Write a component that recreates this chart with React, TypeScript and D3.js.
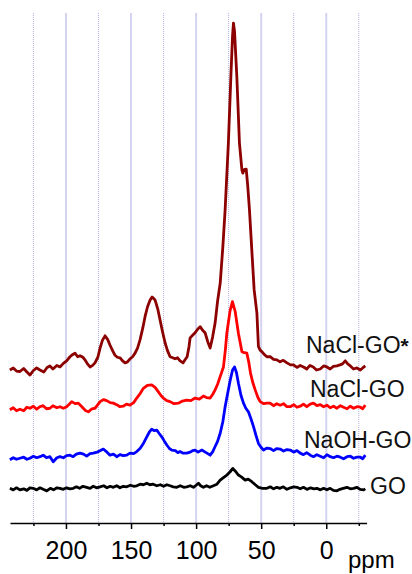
import React, { useEffect, useRef } from 'react';
import * as d3 from 'd3';

// chemical shift (ppm) vs intensity
const naclGoStar: [number, number][] = [
  [243.1,30.0],[240.5,30.4],[238,29.8],[235.4,29.7],[232.5,30.3],[230,29.6],[227.7,29.0],[225,29.9],[222.5,30.4],[220,30.0],
  [217,29.6],[214.5,30.5],[212.3,30.8],[210,30.2],[207,30.9],[204.6,30.6],[202,31.3],[199.5,31.8],[196.9,32.6],[195,33.0],
  [193.1,33.3],[191,32.6],[189.2,32.8],[187,32.5],[185.4,32.0],[183.5,31.2],[181.5,30.6],[179.5,30.9],[177.7,31.4],[175.5,32.5],
  [173.8,34.3],[172,35.8],[170,36.7],[168,36.0],[166.2,34.9],[164,33.7],[162.3,32.9],[160.5,32.5],[158.5,32.4],[156.5,31.8],
  [154.6,31.4],[152.7,31.6],[150.8,32.2],[148.8,32.6],[146.9,33.3],[145,34.3],[143.1,35.9],[141,38.2],[139.2,40.5],[137.2,42.5],
  [135.4,43.7],[133.8,44.3],[132.5,44.0],[131.5,43.7],[129.5,42.0],[127.7,39.8],[125.8,37.5],[123.8,35.3],[122,33.8],[120,32.6],
  [118,32.4],[116.2,32.2],[114.2,32.4],[112.3,31.8],[110,31.4],[108.5,32.0],[106.9,32.6],[105.5,34.5],[104.6,36.3],[102.7,36.8],
  [100.8,37.3],[98.8,38.0],[96.9,38.5],[95,37.8],[93.1,37.3],[91,35.5],[89.2,34.3],[87.3,36.5],[85.4,39.2],[83.5,43.5],
  [81.5,47.0],[79.5,54.0],[77.7,61.4],[75.2,74.5],[73.3,87.5],[72,95.5],[71.3,98.0],[70.5,96.5],[68.7,87.5],[66.7,74.5],
  [64.8,69.2],[64.1,68.6],[63,69.3],[61.5,69.4],[60.3,66.0],[59,61.4],[57.2,53.5],[55.4,45.7],[53.3,41.2],[52.1,34.6],
  [50.8,33.9],[49.5,33.6],[47.5,33.0],[45.6,32.6],[43.1,32.6],[40.5,32.1],[37.9,32.0],[35.5,31.6],[33,31.9],[30.2,31.4],
  [27.5,31.0],[25.2,31.0],[22.5,30.5],[20,30.9],[17.5,30.6],[15,30.2],[12.5,30.9],[10,30.6],[7.5,30.0],[4.6,30.2],
  [2,30.8],[-0.5,30.6],[-3,30.2],[-5.5,30.7],[-8.2,30.8],[-10.5,31.0],[-12.5,31.2],[-14.6,31.8],[-16.5,31.2],[-18.5,30.8],
  [-21,30.2],[-23.6,30.4],[-26.2,30.0],[-28,30.4],[-30,30.8],
];

const naclGo: [number, number][] = [
  [243.1,22.2],[240.5,22.6],[238,22.0],[235.4,22.3],[232.5,22.0],[230,22.7],[227.7,22.5],[225,22.9],[222.5,22.3],[220,22.8],
  [217.5,23.0],[215,22.4],[212.3,22.5],[210,23.0],[207,22.6],[204.6,22.8],[202,22.5],[199.5,22.8],[197.5,23.3],[195.6,23.8],
  [193,23.4],[190.5,23.5],[188.5,23.0],[186.7,22.5],[184.8,22.0],[182.8,21.8],[180,22.4],[177.7,22.5],[175.5,23.2],[173.8,23.8],
  [171,24.2],[168.7,24.0],[166,23.6],[163.6,23.5],[161,23.2],[158.5,22.8],[156,22.9],[153.5,23.3],[150.8,23.1],[148,23.6],
  [145.6,24.5],[143,25.4],[140.5,26.4],[137.5,27.0],[134.1,27.1],[131.5,26.6],[129,25.7],[127,25.0],[125.2,24.5],[122.5,24.0],
  [120,23.8],[117,23.4],[113.6,23.5],[110.5,23.9],[107.2,24.1],[104,24.0],[100.8,24.5],[97.5,24.3],[94.4,24.9],[92,24.6],
  [89.2,24.5],[87.3,25.2],[85.4,26.1],[83.5,27.2],[81.5,28.7],[79,30.6],[77.5,34.0],[76.4,37.2],[74,41.5],[72.1,43.4],
  [70,41.5],[67.5,37.2],[64.8,33.6],[63,33.4],[61,33.3],[59.5,31.5],[58.2,29.4],[56.5,27.6],[54.6,26.1],[52.5,24.6],
  [50.8,23.8],[48,23.4],[45.6,23.5],[43.1,23.5],[40.5,23.0],[38,23.4],[35.4,23.1],[32.8,23.4],[30.2,22.8],[27.7,22.8],
  [25,23.2],[22.5,22.7],[20,22.9],[17.5,23.3],[15,22.8],[12.3,23.3],[9.8,23.5],[7.2,23.0],[4.6,23.2],[2.1,22.8],
  [-0.5,23.1],[-3,22.6],[-5.6,22.9],[-8.2,22.5],[-10.8,23.0],[-13.3,22.7],[-16,22.4],[-18.5,22.9],[-21,22.5],[-23.6,22.8],
  [-26.2,22.7],[-28,22.4],[-30,23.1],
];

const naohGo: [number, number][] = [
  [243.1,12.4],[240.5,12.8],[238,12.5],[235.4,12.7],[232.5,12.9],[230,12.5],[227.7,12.7],[225,13.1],[222.5,12.8],[220,13.0],
  [217.5,13.3],[215,12.8],[212.3,13.0],[209.8,12.0],[207,12.8],[204.6,13.0],[202,12.8],[199.5,13.2],[196.9,13.3],[194.5,13.0],
  [192,13.5],[189.2,13.7],[186.5,13.5],[184.1,13.1],[181.5,13.6],[179,13.7],[176,13.9],[173.5,14.2],[171.3,14.5],[169,14.0],
  [166.2,13.3],[163.5,13.5],[161,13.0],[158.5,13.4],[156,13.2],[153.3,13.3],[150.8,13.7],[148,13.6],[145.6,14.0],[143.1,14.6],
  [140.5,15.6],[137.9,16.9],[136,17.8],[134.1,18.4],[132,18.1],[130.2,18.2],[128.5,17.6],[126.4,16.9],[124.5,16.1],[122.5,15.3],
  [120.5,14.6],[118.7,14.3],[116,14.2],[114,13.8],[112.3,14.0],[110,13.7],[107.2,13.7],[104.5,13.9],[102.5,14.2],[100.8,14.3],
  [98.5,13.9],[95.6,14.3],[93,13.9],[91,13.6],[89.2,13.3],[87.2,14.0],[85.4,15.0],[83.5,16.0],[81.5,17.6],[79.5,19.8],
  [77.7,22.8],[75.7,25.5],[73.8,28.0],[72,30.0],[70.5,30.6],[69,29.5],[67.5,27.4],[65.5,25.0],[63.6,23.5],[61.8,22.5],
  [59.8,21.8],[57.8,20.4],[55.9,18.9],[54,17.2],[52.1,15.6],[50,14.8],[48.2,14.3],[45.5,14.7],[43.1,14.6],[40.5,14.2],
  [38,14.6],[35.4,14.5],[32.8,14.1],[30.2,14.4],[27.7,14.3],[25,13.9],[22.5,14.2],[20,13.7],[17.5,13.4],[15,13.8],
  [12.3,13.3],[9.8,13.0],[7.2,13.4],[4.6,13.1],[2,12.8],[-0.5,13.4],[-3.1,13.0],[-5.6,12.8],[-8.2,13.1],[-10.8,12.9],
  [-13.3,12.6],[-16,13.0],[-18.5,13.1],[-21,12.7],[-23.6,12.9],[-26.2,12.9],[-28,12.6],[-30,13.3],
];

const go: [number, number][] = [
  [243.1,6.8],[240.5,6.5],[238,6.9],[235.4,6.5],[232.5,6.7],[230,6.4],[227.7,6.9],[225.2,6.8],[222.5,6.5],[220,6.9],
  [217.5,6.6],[214.8,6.3],[212,6.8],[209.5,6.5],[207,6.9],[204.6,6.8],[202,6.6],[199.5,6.9],[197,6.7],[194.4,6.8],
  [192,7.1],[189.5,6.8],[187,7.2],[184.1,7.0],[181.5,6.8],[179,7.2],[176.5,6.9],[173.8,7.1],[171,7.3],[168.5,6.9],
  [166,7.2],[163.6,7.0],[161,7.3],[158.5,6.9],[156,7.2],[153.3,7.1],[150.5,7.4],[148,7.2],[145.6,7.3],[143,7.6],
  [140.5,7.5],[137.9,7.8],[135.5,7.5],[133,7.6],[130.2,7.3],[127.5,7.5],[125,7.2],[122.5,7.5],[120,7.3],[117.5,7.1],
  [114.8,7.0],[112.2,7.3],[109.5,7.0],[107.2,7.1],[104.5,7.3],[102,7.0],[100,7.4],[98.2,7.8],[96.5,7.3],[94.4,7.0],
  [92,7.3],[89.5,7.0],[86.7,7.3],[84,7.6],[81.5,8.4],[79,8.9],[76.4,9.4],[74,10.0],[71.8,10.7],[70,10.2],
  [67.5,9.4],[65,9.0],[62.3,8.4],[60,8.6],[57.2,8.1],[54.5,7.5],[52.1,7.0],[49,6.8],[45.6,6.8],[43,7.1],
  [40.5,6.7],[37.9,7.0],[35.5,6.8],[33,7.1],[30.2,6.6],[27.5,6.9],[25,7.1],[22.5,7.0],[20,6.7],[17.5,7.0],
  [14.8,6.6],[12,6.9],[9.5,6.7],[7.2,6.8],[4.5,6.5],[2,6.8],[-0.5,6.5],[-3,6.8],[-5.5,6.4],[-8.2,6.3],
  [-10.5,6.6],[-13,6.8],[-15.9,7.0],[-18.5,6.7],[-21,6.8],[-23.5,7.0],[-26,6.6],[-28.7,6.5],[-30,6.7],
];

const seriesNames = ['NaCl-GO', 'NaCl-GO', 'NaOH-GO', 'GO'];
const seriesColors = ['#8c0000', '#ff0000', '#0000ff', '#000000'];
const majorTicks = [200, 150, 100, 50, 0];
const minorTicks = [225, 175, 125, 75, 25, -25];

const App = () => {
  const ref = useRef<SVGSVGElement>(null);

  useEffect(() => {
    const svg = d3.select(ref.current);
    svg.selectAll('*').remove();

    const x = d3.scaleLinear().domain([243, -31]).range([10, 366.6]);
    const y = d3.scaleLinear().domain([0, 100]).range([523, 13]);
    const font = 'Arial, "Liberation Sans", sans-serif';

    // vertical grid
    svg.append('g').selectAll('line')
      .data(majorTicks)
      .enter().append('line')
      .attr('x1', d => x(d)).attr('x2', d => x(d))
      .attr('y1', y(100)).attr('y2', y(0))
      .attr('stroke', '#d4d4f0').attr('stroke-width', 2);

    svg.append('g').selectAll('line')
      .data(minorTicks)
      .enter().append('line')
      .attr('x1', d => x(d)).attr('x2', d => x(d))
      .attr('y1', y(100)).attr('y2', y(0))
      .attr('stroke', '#b0b0e6').attr('stroke-width', 1)
      .attr('stroke-dasharray', '1,1');

    const line = d3.line<[number, number]>()
      .x(d => x(d[0]))
      .y(d => y(d[1]));

    const all = [naclGoStar, naclGo, naohGo, go];
    all.forEach((s, i) => {
      svg.append('path')
        .datum(s)
        .attr('d', line)
        .attr('fill', 'none')
        .attr('stroke', seriesColors[i])
        .attr('stroke-width', 2.8)
        .attr('stroke-linejoin', 'round');
    });

    // x axis
    const major = svg.append('g')
      .attr('transform', `translate(0,${y(0)})`)
      .call(d3.axisBottom(x).tickValues(majorTicks).tickSize(6).tickSizeOuter(0).tickPadding(12).tickFormat(d3.format('d')));
    major.select('.domain').attr('stroke', '#000').attr('stroke-width', 1.5);
    major.selectAll('.tick line').attr('stroke', '#000').attr('stroke-width', 1.5);
    major.selectAll('.tick text')
      .attr('font-size', 25).attr('font-family', font).attr('fill', '#000');

    const minor = svg.append('g')
      .attr('transform', `translate(0,${y(0)})`)
      .call(d3.axisBottom(x).tickValues(minorTicks).tickSize(3).tickSizeOuter(0).tickFormat(() => ''));
    minor.select('.domain').remove();
    minor.selectAll('.tick line').attr('stroke', '#000').attr('stroke-width', 1.5);

    svg.append('text')
      .attr('x', 348).attr('y', 568)
      .attr('font-size', 24).attr('font-family', font)
      .text('ppm');

    // series labels
    const labelPos = [[306, 353], [310, 397], [304, 448], [370, 494]];
    seriesNames.forEach((n, i) => {
      const t = svg.append('text')
        .attr('x', labelPos[i][0]).attr('y', labelPos[i][1])
        .attr('font-size', 23).attr('font-family', font).attr('fill', '#111')
        .text(n);
      if (i === 0) t.append('tspan').attr('font-weight', 'bold').attr('font-size', 21).text('*');
    });
  }, []);

  return (
    <svg ref={ref} width={412} height={574}
      style={{ position: 'absolute', left: 0, top: 0, background: '#fff' }} />
  );
};

export default App;
